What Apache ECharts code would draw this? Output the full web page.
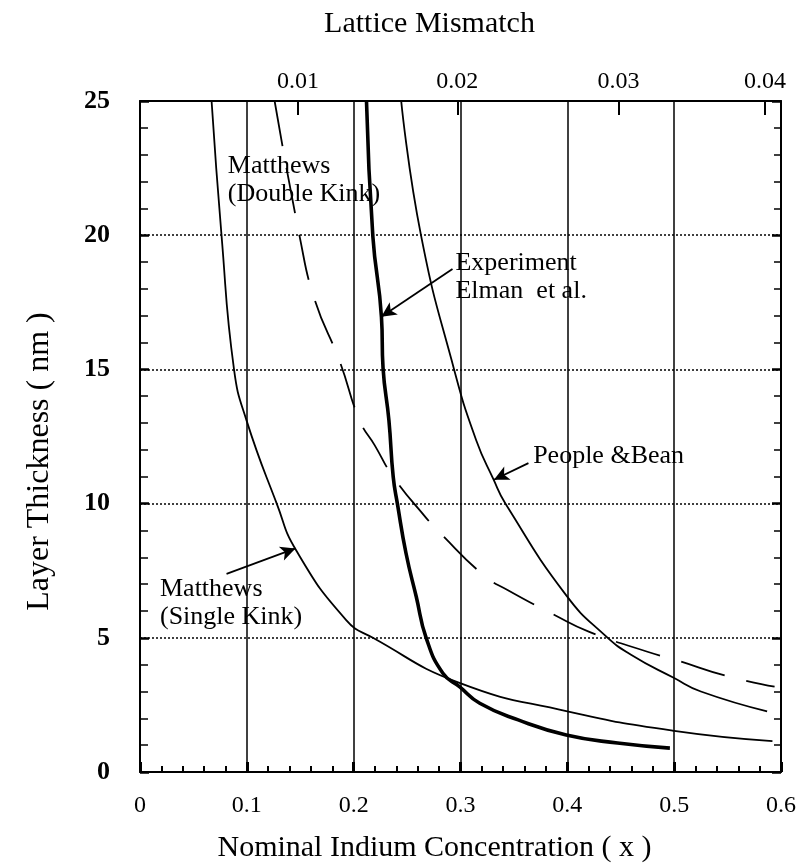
<!DOCTYPE html>
<html>
<head>
<meta charset="utf-8">
<title>Critical layer thickness vs indium concentration</title>
<script src="https://cdn.jsdelivr.net/npm/echarts@6/dist/echarts.min.js"></script>
<style>
  html, body { margin: 0; padding: 0; background: #fff; }
  #chart { width: 804px; height: 868px; }
</style>
</head>
<body>
<div id="chart"></div>
<script>
// Indium concentration (x) and layer thickness (nm) for each curve
const singleKinkX = [0.067, 0.0763, 0.088, 0.0997, 0.128, 0.146, 0.193, 0.218, 0.299, 0.399, 0.5, 0.592];
const singleKinkY = [25, 20, 15, 13.1, 10, 8.27, 5.66, 5.0, 3.32, 2.27, 1.53, 1.15];

const doubleKinkX = [0.126, 0.1495, 0.1636, 0.187, 0.2056, 0.2196, 0.237, 0.268, 0.28, 0.322, 0.344, 0.388, 0.42, 0.475, 0.502, 0.549, 0.594];
const doubleKinkY = [25, 19.94, 17.59, 15.29, 13.1, 12.18, 11.0, 9.46, 8.94, 7.32, 6.78, 5.85, 5.23, 4.48, 4.17, 3.58, 3.18];

const experimentX = [0.212, 0.218, 0.226, 0.2275, 0.233, 0.237, 0.241, 0.249, 0.2586, 0.268, 0.2835, 0.299, 0.318, 0.354, 0.399, 0.447, 0.496];
const experimentY = [25, 19.94, 16.96, 15.06, 13.1, 11.0, 9.98, 8.15, 6.53, 4.98, 3.68, 3.18, 2.56, 1.94, 1.38, 1.08, 0.89];

const peopleBeanX = [0.2445, 0.263, 0.294, 0.3146, 0.331, 0.342, 0.399, 0.435, 0.46, 0.5, 0.525, 0.587];
const peopleBeanY = [25, 20, 15, 12.37, 10.89, 10, 6.58, 5.1, 4.36, 3.5, 3.0, 2.26];

// Top axis: lattice mismatch values and the indium concentration where each falls
const mismatchLabels = ['0.01', '0.02', '0.03', '0.04'];
const mismatchAtX = [0.148, 0.297, 0.448, 0.585];

// Curve labels, anchored at their left edge / vertical middle
const noteX = [0.0822, 0.2953, 0.368, 0.0187];
const noteY = [22.06, 18.44, 11.77, 6.28];
const noteText = ['Matthews\n(Double Kink)', 'Experiment\nElman  et al.', 'People &Bean', 'Matthews\n(Single Kink)'];

// Pointer arrows: tail and head points
const arrowFrom = [[0.2925, 18.74], [0.3636, 11.51], [0.081, 7.38]];
const arrowTo = [[0.2259, 16.96], [0.3313, 10.89], [0.1455, 8.33]];

const zip = (xs, ys) => xs.map((x, i) => [x, ys[i]]);
const FONT = '"Liberation Serif", "DejaVu Serif", serif';
const INK = '#000';

const chart = echarts.init(document.getElementById('chart'), null, { renderer: 'canvas' });

function curve(name, xs, ys, width, type) {
  return {
    name, type: 'line', data: zip(xs, ys),
    xAxisIndex: 0, yAxisIndex: 0,
    smooth: 0.5,
    showSymbol: false, symbol: 'none',
    lineStyle: { color: '#000', width, type: type || 'solid' },
    silent: true, z: 5
  };
}

const option = {
  backgroundColor: '#fff',
  animation: false,
  grid: { left: 140, right: 23, top: 101, bottom: 96, containLabel: false },
  xAxis: [
    {
      type: 'value', position: 'bottom', min: 0, max: 0.6, interval: 0.1,
      name: 'Nominal Indium Concentration ( x )', nameLocation: 'middle', nameGap: 61,
      nameTextStyle: { fontFamily: FONT, fontSize: 30, color: INK, padding: [0, 52, 0, 0] },
      axisLine: { show: true, onZero: false, lineStyle: { color: '#000', width: 2 } },
      axisTick: { show: true, inside: true, length: 10, lineStyle: { color: '#000', width: 3 } },
      minorTick: { show: true, splitNumber: 5, length: 6, lineStyle: { color: '#000', width: 2 } },
      axisLabel: { fontFamily: FONT, fontSize: 24, color: INK, margin: 22,
        formatter: v => (v === 0 ? '0' : v.toFixed(1)) },
      splitLine: { show: true, lineStyle: { color: '#000', width: 1.5, type: 'solid' } }
    },
    {
      type: 'value', position: 'top', min: 0, max: 0.6,
      name: 'Lattice Mismatch', nameLocation: 'middle', nameGap: 62,
      nameTextStyle: { fontFamily: FONT, fontSize: 30, color: INK, padding: [0, 62, 0, 0] },
      axisLine: { show: true, onZero: false, lineStyle: { color: '#000', width: 2 } },
      axisTick: { show: true, inside: true, length: 14, customValues: mismatchAtX,
        lineStyle: { color: '#000', width: 2 } },
      axisLabel: { fontFamily: FONT, fontSize: 24, color: INK, margin: 7, customValues: mismatchAtX,
        formatter: v => {
          let best = 0;
          mismatchAtX.forEach((p, i) => { if (Math.abs(p - v) < Math.abs(mismatchAtX[best] - v)) best = i; });
          return mismatchLabels[best];
        } },
      splitLine: { show: false }
    }
  ],
  yAxis: [
    {
      type: 'value', position: 'left', min: 0, max: 25, interval: 5,
      name: 'Layer Thickness ( nm )', nameLocation: 'middle', nameGap: 84, nameRotate: 90,
      nameTextStyle: { fontFamily: FONT, fontSize: 32, color: INK, padding: [0, 50, 0, 0] },
      axisLine: { show: true, onZero: false, lineStyle: { color: '#000', width: 2 } },
      axisTick: { show: true, inside: true, length: 9, lineStyle: { color: '#000', width: 2.5 } },
      minorTick: { show: true, splitNumber: 5, length: 8, lineStyle: { color: '#000', width: 1.5 } },
      axisLabel: { fontFamily: FONT, fontSize: 26, color: INK, margin: 30, fontWeight: 'bold' },
      splitLine: { show: true, lineStyle: { color: '#000', width: 1.5, type: [2, 2] } }
    },
    {
      type: 'value', position: 'right', min: 0, max: 25, interval: 5,
      axisLine: { show: true, onZero: false, lineStyle: { color: '#000', width: 2 } },
      axisTick: { show: true, inside: true, length: 9, lineStyle: { color: '#000', width: 2.5 } },
      minorTick: { show: true, splitNumber: 5, length: 7, lineStyle: { color: '#000', width: 1.5 } },
      axisLabel: { show: false },
      splitLine: { show: false }
    }
  ],
  series: [
    curve('Matthews (Single Kink)', singleKinkX, singleKinkY, 1.8),
    curve('Matthews (Double Kink)', doubleKinkX, doubleKinkY, 1.8, [46, 22]),
    curve('Experiment Elman et al.', experimentX, experimentY, 3.6),
    curve('People & Bean', peopleBeanX, peopleBeanY, 1.8),
    {
      name: 'arrows', type: 'line', data: [], xAxisIndex: 0, yAxisIndex: 0,
      markLine: {
        silent: true, animation: false,
        symbol: ['none', 'arrow'], symbolSize: [11, 15],
        label: { show: false },
        lineStyle: { color: '#000', width: 1.8, type: 'solid' },
        data: arrowFrom.map((f, i) => [{ coord: f }, { coord: arrowTo[i] }])
      }
    }
  ]
};

chart.setOption(option);

// Curve names as text, placed through the chart's own coordinate conversion
chart.setOption({
  graphic: noteText.map((t, i) => {
    const [px, py] = chart.convertToPixel({ xAxisIndex: 0, yAxisIndex: 0 }, [noteX[i], noteY[i]]);
    return {
      type: 'text', x: px, y: py, z: 100, silent: true,
      style: {
        text: t, fill: INK, font: '26px ' + FONT,
        lineHeight: 28, align: 'left', verticalAlign: 'middle'
      }
    };
  })
});
</script>
</body>
</html>
